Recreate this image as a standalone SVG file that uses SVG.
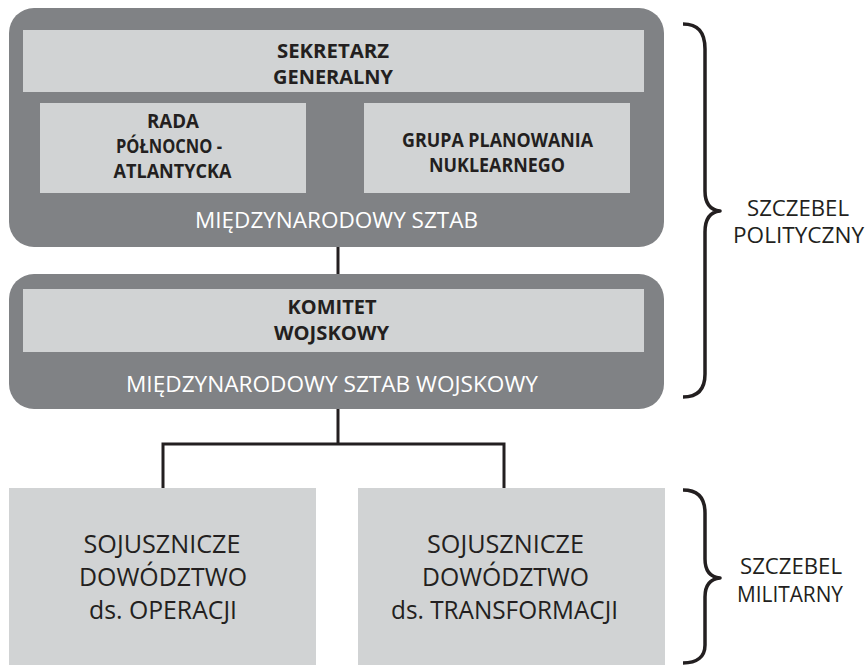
<svg xmlns="http://www.w3.org/2000/svg" width="865" height="665" viewBox="0 0 865 665">
<defs>
<style>
.outer{fill:#808285;}
.light{fill:#d1d3d4;}
.b{font-family:"Open Sans","Liberation Sans",sans-serif;font-weight:700;font-size:20px;fill:#231f20;text-anchor:middle;}
.w{font-family:"Open Sans","Liberation Sans",sans-serif;font-weight:400;font-size:21px;fill:#ffffff;text-anchor:middle;}
.r{font-family:"Open Sans","Liberation Sans",sans-serif;font-weight:400;font-size:25.5px;fill:#231f20;text-anchor:middle;}
.s{font-family:"Open Sans","Liberation Sans",sans-serif;font-weight:400;font-size:21px;fill:#231f20;text-anchor:middle;}
.con{fill:none;stroke:#231f20;stroke-width:3;stroke-linejoin:miter;stroke-linecap:butt;}
.brace{fill:none;stroke:#231f20;stroke-width:3.5;stroke-linejoin:round;stroke-linecap:butt;}
</style>
</defs>
<rect width="865" height="665" fill="#ffffff"/>

<g id="connectors">
<path class="con" d="M338,246 V275"/>
<path class="con" d="M338,408 V444"/>
<path class="con" d="M163,488 V444 H504 V488"/>
</g>

<g id="node-miedzynarodowy-sztab">
<rect class="outer" x="9" y="8" width="655" height="239" rx="25" ry="25"/>
<text class="w" x="336.5" y="228" textLength="283" lengthAdjust="spacingAndGlyphs">MIĘDZYNARODOWY SZTAB</text>
</g>
<g id="node-sekretarz">
<rect class="light" x="23" y="30" width="621" height="62"/>
<text class="b" x="333" y="58" textLength="112" lengthAdjust="spacingAndGlyphs">SEKRETARZ</text>
<text class="b" x="333" y="84" textLength="120" lengthAdjust="spacingAndGlyphs">GENERALNY</text>
</g>
<g id="node-rada">
<rect class="light" x="40" y="103" width="266" height="90"/>
<text class="b" x="173" y="128" textLength="52" lengthAdjust="spacingAndGlyphs">RADA</text>
<text class="b" x="169" y="153" textLength="106" lengthAdjust="spacingAndGlyphs">PÓŁNOCNO -</text>
<text class="b" x="172.5" y="178" textLength="118" lengthAdjust="spacingAndGlyphs">ATLANTYCKA</text>
</g>
<g id="node-grupa">
<rect class="light" x="364" y="103" width="266" height="90"/>
<text class="b" x="497.5" y="147" textLength="191" lengthAdjust="spacingAndGlyphs">GRUPA PLANOWANIA</text>
<text class="b" x="497" y="172" textLength="136" lengthAdjust="spacingAndGlyphs">NUKLEARNEGO</text>
</g>

<g id="node-miedzynarodowy-sztab-wojskowy">
<rect class="outer" x="9" y="274" width="655" height="135" rx="25" ry="25"/>
<text class="w" x="332" y="392" textLength="412" lengthAdjust="spacingAndGlyphs">MIĘDZYNARODOWY SZTAB WOJSKOWY</text>
</g>
<g id="node-komitet">
<rect class="light" x="23" y="289" width="621" height="63"/>
<text class="b" x="332" y="314" textLength="89" lengthAdjust="spacingAndGlyphs">KOMITET</text>
<text class="b" x="331.5" y="340" textLength="115" lengthAdjust="spacingAndGlyphs">WOJSKOWY</text>
</g>

<g id="node-dowodztwo-operacji">
<rect class="light" x="9" y="488" width="307" height="177"/>
<text class="r" x="162" y="553" textLength="157" lengthAdjust="spacingAndGlyphs">SOJUSZNICZE</text>
<text class="r" x="163" y="586" textLength="168" lengthAdjust="spacingAndGlyphs">DOWÓDZTWO</text>
<text class="r" x="163" y="619" textLength="148" lengthAdjust="spacingAndGlyphs">ds. OPERACJI</text>
</g>
<g id="node-dowodztwo-transformacji">
<rect class="light" x="358" y="488" width="307" height="177"/>
<text class="r" x="505.5" y="553" textLength="157" lengthAdjust="spacingAndGlyphs">SOJUSZNICZE</text>
<text class="r" x="505.5" y="586" textLength="167" lengthAdjust="spacingAndGlyphs">DOWÓDZTWO</text>
<text class="r" x="504.5" y="619" textLength="227" lengthAdjust="spacingAndGlyphs">ds. TRANSFORMACJI</text>
</g>

<g id="brace-polityczny">
<path class="brace" d="M683,24 C697,24 705,31 705,49 L705,191 C705,204 710,210 720,211 C710,212 705,219 705,232 L705,374 C705,390 697,397 683,397"/>
<text class="s" x="798" y="216" textLength="102" lengthAdjust="spacingAndGlyphs">SZCZEBEL</text>
<text class="s" x="798.5" y="243" textLength="131" lengthAdjust="spacingAndGlyphs">POLITYCZNY</text>
</g>
<g id="brace-militarny">
<path class="brace" d="M683,490 C697,490 705,497 705,513 L705,559 C705,571 710,577 720,578 C710,579 705,585 705,597 L705,645 C705,657 697,663 683,663"/>
<text class="s" x="791" y="574" textLength="102" lengthAdjust="spacingAndGlyphs">SZCZEBEL</text>
<text class="s" x="790" y="602" textLength="106" lengthAdjust="spacingAndGlyphs">MILITARNY</text>
</g>
</svg>
